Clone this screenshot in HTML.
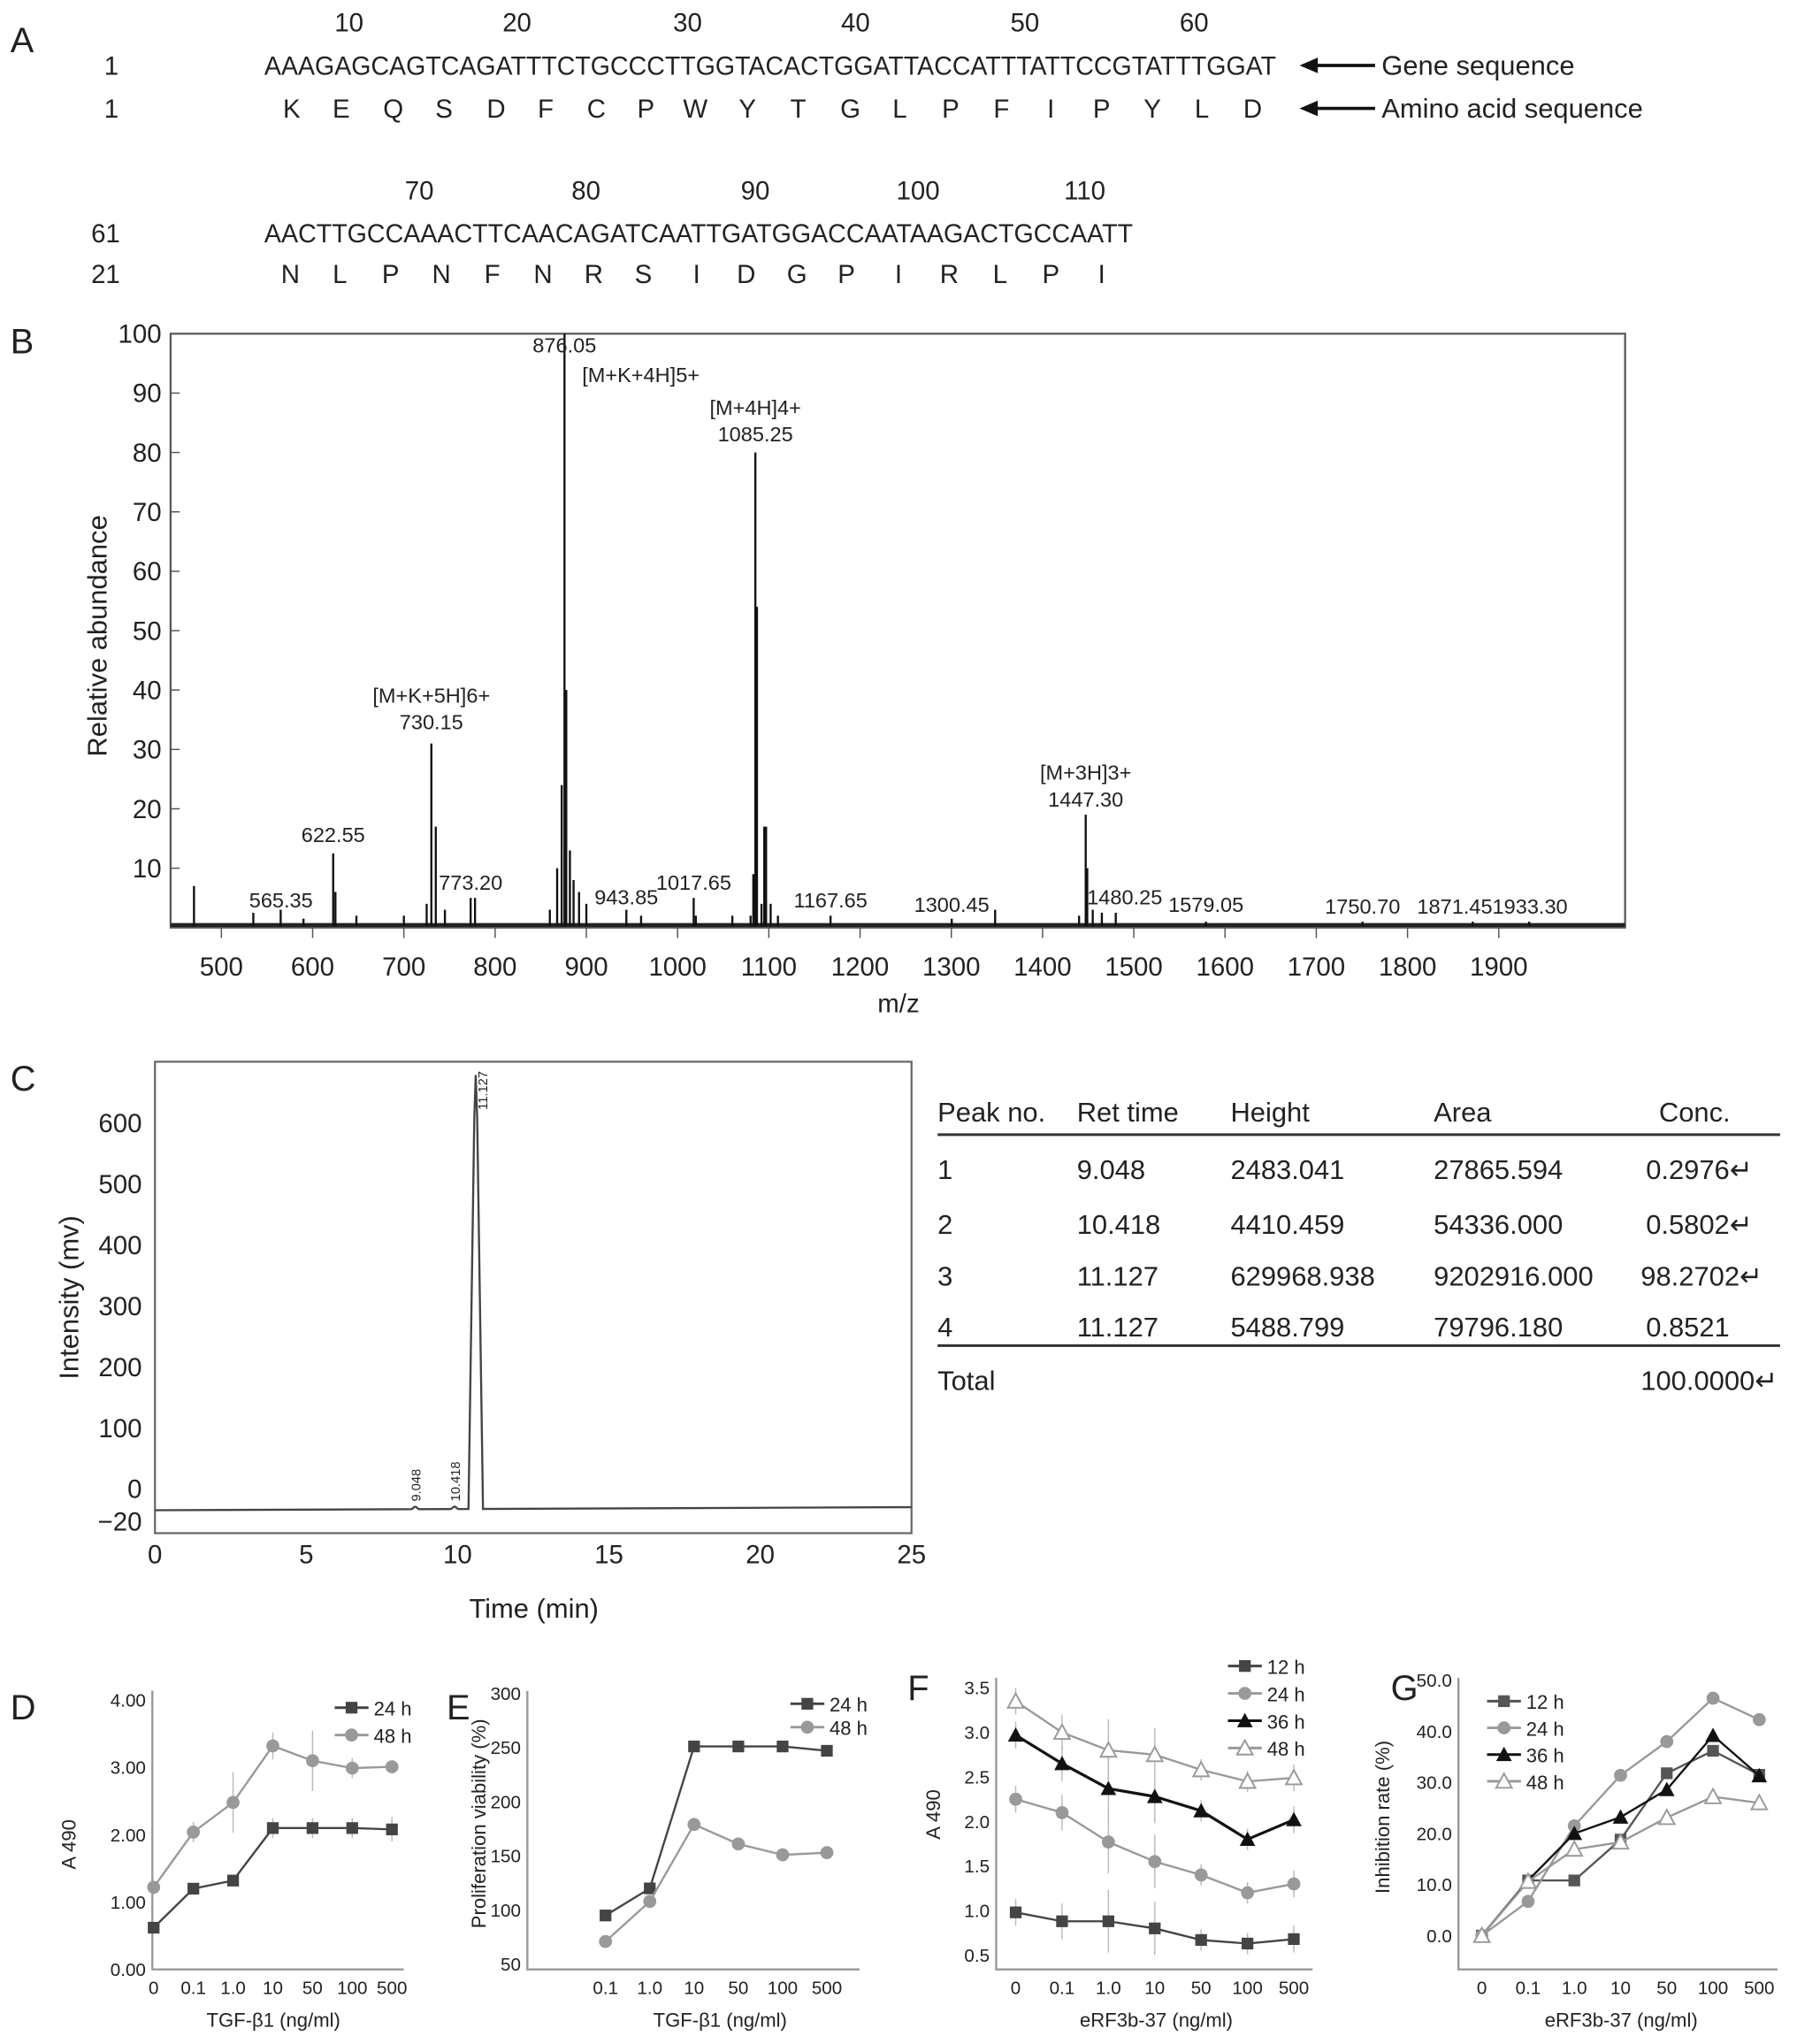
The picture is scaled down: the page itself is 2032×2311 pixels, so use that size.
<!DOCTYPE html>
<html><head><meta charset="utf-8"><style>
html,body{margin:0;padding:0;background:#fff}
svg{display:block}
text{font-family:"Liberation Sans",Arial,sans-serif;fill:#222}
</style></head><body>
<svg id="fig" xmlns="http://www.w3.org/2000/svg" width="2032" height="2311" viewBox="0 0 1380 1569">
<g font-size="20">
<text x="8" y="40" font-size="27">A</text>
<g text-anchor="middle">
<text x="268" y="24">10</text><text x="397" y="24">20</text><text x="528" y="24">30</text><text x="657" y="24">40</text><text x="787" y="24">50</text><text x="917" y="24">60</text>
</g>
<text x="80" y="57">1</text>
<text x="203" y="57" textLength="777" lengthAdjust="spacingAndGlyphs">AAAGAGCAGTCAGATTTCTGCCCTTGGTACACTGGATTACCATTTATTCCGTATTTGGAT</text>
<text x="80" y="90">1</text>
<g text-anchor="middle">
<text x="224" y="90">K</text><text x="262" y="90">E</text><text x="302" y="90">Q</text><text x="341" y="90">S</text><text x="381" y="90">D</text><text x="419" y="90">F</text><text x="458" y="90">C</text><text x="496" y="90">P</text><text x="534" y="90">W</text><text x="574" y="90">Y</text><text x="613" y="90">T</text><text x="653" y="90">G</text><text x="691" y="90">L</text><text x="730" y="90">P</text><text x="769" y="90">F</text><text x="807" y="90">I</text><text x="846" y="90">P</text><text x="885" y="90">Y</text><text x="923" y="90">L</text><text x="962" y="90">D</text>
</g>
<g><line x1="1008" y1="50" x2="1056" y2="50" stroke="#111" stroke-width="2.5"/><polygon points="998,50 1012,44 1012,56" fill="#111"/></g>
<text x="1061" y="57" font-size="21">Gene sequence</text>
<g><line x1="1008" y1="83" x2="1056" y2="83" stroke="#111" stroke-width="2.5"/><polygon points="998,83 1012,77 1012,89" fill="#111"/></g>
<text x="1061" y="90" font-size="21">Amino acid sequence</text>
<g text-anchor="middle">
<text x="322" y="153">70</text><text x="450" y="153">80</text><text x="580" y="153">90</text><text x="705" y="153">100</text><text x="833" y="153">110</text>
</g>
<text x="70" y="186">61</text>
<text x="203" y="186" textLength="667" lengthAdjust="spacingAndGlyphs">AACTTGCCAAACTTCAACAGATCAATTGATGGACCAATAAGACTGCCAATT</text>
<text x="70" y="217">21</text>
<g text-anchor="middle">
<text x="223" y="217">N</text><text x="261" y="217">L</text><text x="300" y="217">P</text><text x="339" y="217">N</text><text x="378" y="217">F</text><text x="417" y="217">N</text><text x="456" y="217">R</text><text x="494" y="217">S</text><text x="535" y="217">I</text><text x="573" y="217">D</text><text x="612" y="217">G</text><text x="650" y="217">P</text><text x="690" y="217">I</text><text x="729" y="217">R</text><text x="768" y="217">L</text><text x="807" y="217">P</text><text x="846" y="217">I</text>
</g>
</g>
<g id="pb"></g>
<g id="pc"></g>
<g font-size="21">
<text x="720" y="861">Peak no.</text><text x="827" y="861">Ret time</text><text x="945" y="861">Height</text><text x="1101" y="861">Area</text><text x="1274" y="861">Conc.</text>
<line x1="720" y1="871" x2="1367" y2="871" stroke="#333" stroke-width="2"/>
<text x="720" y="905">1</text><text x="827" y="905">9.048</text><text x="945" y="905">2483.041</text><text x="1101" y="905">27865.594</text><text x="1264" y="905">0.2976↵</text>
<text x="720" y="947">2</text><text x="827" y="947">10.418</text><text x="945" y="947">4410.459</text><text x="1101" y="947">54336.000</text><text x="1264" y="947">0.5802↵</text>
<text x="720" y="987">3</text><text x="827" y="987">11.127</text><text x="945" y="987">629968.938</text><text x="1101" y="987">9202916.000</text><text x="1260" y="987">98.2702↵</text>
<text x="720" y="1026">4</text><text x="827" y="1026">11.127</text><text x="945" y="1026">5488.799</text><text x="1101" y="1026">79796.180</text><text x="1264" y="1026">0.8521</text>
<line x1="720" y1="1033" x2="1367" y2="1033" stroke="#333" stroke-width="2"/>
<text x="720" y="1067">Total</text><text x="1260" y="1067">100.0000↵</text>
</g>
<g id="pd"></g>
<g id="pe"></g>
<g id="pf"></g>
<g id="pg"></g>
</svg>
<script>
// ---- Panel B data ----
const msMz = [470,535,565,590,622.55,625,648,700,725,730.15,735,745,773.2,778,860,868,873,876.05,878,882,886,892,900,943.85,960,1017.65,1020,1060,1080,1083,1085.25,1087,1092,1095,1097,1102,1110,1167.65,1300.45,1348,1440,1447.3,1449,1455,1465,1480.25,1579.05,1750.7,1871.45,1933.3];
const msAb = [7,2.5,3,1.5,12.5,6,2,2,4,31,17,3,5,5,3,10,24,100,40,13,8,6,4,3,2,5,2,2,2,9,80,54,4,17,17,4,2,2,1.5,3,2,19,10,3,2.5,2.5,1,1,1,1];
const msTicks = [500,600,700,800,900,1000,1100,1200,1300,1400,1500,1600,1700,1800,1900];
const msYTicks = [10,20,30,40,50,60,70,80,90,100];
const msLabels = [["876.05",876.05,96],["[M+K+4H]5+",900,91],["[M+4H]4+",1085.25,85.5],["1085.25",1085.25,81],["[M+K+5H]6+",730.15,37],["730.15",730.15,32.5],["622.55",622.55,13.5],["565.35",565.35,2.5],["773.20",773.2,5.5],["943.85",943.85,3],["1017.65",1017.65,5.5],["1167.65",1167.65,2.5],["1300.45",1300.45,1.8],["[M+3H]3+",1447.3,24],["1447.30",1447.3,19.5],["1480.25",1490,3],["1579.05",1579.05,1.8],["1750.70",1750.7,1.5],["1871.451933.30",1893,1.5]];
// ---- Panel C data ----
const lcPeakT = [8.6,9.9,10.6];
const lcPeakH = [4,4,712];
const lcPeakLbl = ["9.048","10.418","11.127"];
const lcXTicks = [0,5,10,15,20,25];
const lcYTicks = [600,500,400,300,200,100,0];
// ---- Panel D ----
const dCats = ["0","0.1","1.0","10","50","100","500"];
const d24 = [0.62,1.2,1.32,2.1,2.1,2.1,2.08];
const d48 = [1.22,2.04,2.48,3.32,3.1,2.99,3.01];
const d24err = [0.08,0.08,0.08,0.15,0.15,0.15,0.18];
const d48err = [0.05,0.15,0.45,0.2,0.45,0.15,0.1];
const dYTicks = [0,1,2,3,4];
// ---- Panel E ----
const eCats = ["0.1","1.0","10","50","100","500"];
const e24 = [95,120,251,251,251,247];
const e48 = [71,108,179,161,151,153];
const eYTicks = [50,100,150,200,250,300];
// ---- Panel F ----
const fCats = ["0","0.1","1.0","10","50","100","500"];
const f12 = [0.98,0.88,0.88,0.8,0.67,0.63,0.68];
const f24 = [2.25,2.1,1.77,1.55,1.4,1.2,1.3];
const f36 = [2.97,2.65,2.37,2.28,2.12,1.8,2.02];
const f48 = [3.35,3.0,2.8,2.75,2.58,2.45,2.49];
const fErr = [0.15,0.2,0.35,0.3,0.12,0.12,0.15];
const fYTicks = [0.5,1.0,1.5,2.0,2.5,3.0,3.5];
// ---- Panel G ----
const gCats = ["0","0.1","1.0","10","50","100","500"];
const g12 = [0,10.8,10.8,18.8,31.8,36.2,31.5];
const g24 = [0,6.7,21.5,31.4,38,46.5,42.3];
const g36 = [0,10.8,20,23.2,28.6,39.2,31.3];
const g48 = [0,10.6,16.9,18.3,23.1,27.2,26];
const gYTicks = [0,10,20,30,40,50];

const NS="http://www.w3.org/2000/svg";
function mk(parent,tag,attrs,txt){const e=document.createElementNS(NS,tag);for(const k in attrs)e.setAttribute(k,attrs[k]);if(txt!==undefined)e.textContent=txt;parent.appendChild(e);return e;}

// ===== Panel B =====
(function(){
const g=document.getElementById('pb');
const X=m=>170+(m-500)*0.7007, Y=v=>712-v*4.56;
const lb=mk(g,'text',{x:8,y:271,'font-size':27},'B');


const box=mk(g,'rect',{x:131,y:256,width:1117,height:456,fill:'none',stroke:'#555','stroke-width':1.5});


mk(g,'line',{x1:131,y1:710,x2:1248,y2:710,stroke:'#222','stroke-width':3});
msYTicks.forEach(v=>{const t=mk(g,'text',{x:124,y:Y(v)+7,'font-size':20,'text-anchor':'end'},String(v));


mk(g,'line',{x1:131,y1:Y(v),x2:138,y2:Y(v),stroke:'#555'});});
msTicks.forEach(v=>{const t=mk(g,'text',{x:X(v),y:749,'font-size':20,'text-anchor':'middle'},String(v));


mk(g,'line',{x1:X(v),y1:712,x2:X(v),y2:720,stroke:'#555'});});
const xt=mk(g,'text',{x:690,y:777,'font-size':20,'text-anchor':'middle'},'m/z');


const yt=mk(g,'text',{x:0,y:0,'font-size':21,'text-anchor':'middle',transform:'translate(82,488) rotate(-90)'},'Relative abundance');


msMz.forEach((m,i)=>{const l=mk(g,'line',{x1:X(m),y1:711,x2:X(m),y2:Y(msAb[i]),stroke:'#111','stroke-width':1.6});

});
msLabels.forEach(a=>{const isK=a[0].startsWith('[M+K+4H]');const t=mk(g,'text',{x:isK?447:X(a[1]),y:Y(a[2])-4,'font-size':16,'text-anchor':isK?'start':'middle'},a[0]);

});
})();

// ===== Panel C =====
(function(){
const g=document.getElementById('pc');
const X=t=>119+t*23.24, Y=v=>1143-v*0.468;
const lb=mk(g,'text',{x:8,y:837,'font-size':27},'C');


const box=mk(g,'rect',{x:119,y:815,width:581,height:362,fill:'none',stroke:'#666','stroke-width':1.5});


lcYTicks.forEach(v=>{const t=mk(g,'text',{x:109,y:Y(v)+7,'font-size':20,'text-anchor':'end'},String(v));

});
const m20=mk(g,'text',{x:109,y:1175,'font-size':20,'text-anchor':'end'},'−20');


lcXTicks.forEach(v=>{const t=mk(g,'text',{x:X(v),y:1200,'font-size':20,'text-anchor':'middle'},String(v));

});
const xt=mk(g,'text',{x:410,y:1242,'font-size':21,'text-anchor':'middle'},'Time (min)');


const yt=mk(g,'text',{x:0,y:0,'font-size':21,'text-anchor':'middle',transform:'translate(60,996) rotate(-90)'},'Intensity (mv)');


const base=v=>-35+ v*0.2;
let d=`M${X(0)},${Y(base(0))}`;
lcPeakT.forEach((t,i)=>{const w=i===2?0.12:0.06;d+=` L${X(t-w*2)},${Y(base(t))} L${X(t-w*0.4)},${Y(base(t)+lcPeakH[i]*0.9)} L${X(t)},${Y(base(t)+lcPeakH[i])} L${X(t+w*0.4)},${Y(base(t)+lcPeakH[i]*0.9)} L${X(t+w*2)},${Y(base(t))}`;});
d+=` L${X(25)},${Y(base(25))}`;
const tr=mk(g,'path',{d:d,fill:'none',stroke:'#444','stroke-width':1.6});


lcPeakT.forEach((t,i)=>{const yy=i===2?852:Y(base(t)+lcPeakH[i])-4;const lab=mk(g,'text',{x:0,y:0,'font-size':10,transform:`translate(${X(t)+(i===2?9:4)},${yy}) rotate(-90)`},lcPeakLbl[i]);

});
})();

// ===== Line charts =====
function marker(g,type,x,y,col){let e;
if(type==='sq')e=mk(g,'rect',{x:x-4.5,y:y-4.5,width:9,height:9,fill:col});
else if(type==='ci')e=mk(g,'circle',{cx:x,cy:y,r:5,fill:col});
else if(type==='tri')e=mk(g,'polygon',{points:`${x},${y-6} ${x-6},${y+5} ${x+6},${y+5}`,fill:col});
else e=mk(g,'polygon',{points:`${x},${y-6} ${x-6},${y+5} ${x+6},${y+5}`,fill:'#fff',stroke:col,'stroke-width':1.3});

}
function chart(o){
const g=document.getElementById(o.id);
const X=i=>o.xs[0]+i*o.dx, Y=v=>o.y0-(v-o.vmin)*o.ppu;
const lb=mk(g,'text',{x:o.lx,y:o.ly,'font-size':27},o.letter);


const ax=mk(g,'path',{d:`M${o.ax},${o.top} V${o.axy} H${o.axr}`,fill:'none',stroke:'#999','stroke-width':1.6});


o.yt.forEach(v=>{const t=mk(g,'text',{x:o.ax-5,y:Y(v)+5,'font-size':14,'text-anchor':'end'},o.fmt(v));

});
o.cats.forEach((c,i)=>{const t=mk(g,'text',{x:X(i),y:1531,'font-size':14,'text-anchor':'middle'},c);

});
const xt=mk(g,'text',{x:o.xtx,y:1556,'font-size':15,'text-anchor':'middle'},o.xtitle);


const yt=mk(g,'text',{x:0,y:0,'font-size':15,'text-anchor':'middle',transform:`translate(${o.ytx},${o.yty}) rotate(-90)`},o.ytitle);


o.series.forEach((s,k)=>{
if(s.err)s.vals.forEach((v,i)=>{mk(g,'line',{x1:X(i),y1:Y(v-s.err[i]),x2:X(i),y2:Y(v+s.err[i]),stroke:'#bbb','stroke-width':1});});
const p=mk(g,'polyline',{points:s.vals.map((v,i)=>X(i)+','+Y(v)).join(' '),fill:'none',stroke:s.col,'stroke-width':s.w||1.6});


s.vals.forEach((v,i)=>marker(g,s.mk,X(i),Y(v),s.col));
const ly=o.legY+k*o.legDy;
mk(g,'line',{x1:o.legX,y1:ly,x2:o.legX+26,y2:ly,stroke:s.col,'stroke-width':2});
marker(g,s.mk,o.legX+13,ly,s.col);
const lt=mk(g,'text',{x:o.legX+30,y:ly+6,'font-size':15},s.name);


});}
chart({id:'pd',letter:'D',lx:8,ly:1320,xs:[118],dx:30.5,y0:1512,vmin:0,ppu:51.7,ax:117,top:1298,axy:1512,axr:310,yt:dYTicks,fmt:v=>v.toFixed(2),cats:dCats,xtx:210,xtitle:'TGF-β1 (ng/ml)',ytx:58,yty:1416,ytitle:'A 490',legX:257,legY:1311,legDy:21,
series:[{name:'24 h',vals:d24,err:d24err,col:'#444',mk:'sq'},{name:'48 h',vals:d48,err:d48err,col:'#999',mk:'ci'}]});
chart({id:'pe',letter:'E',lx:343,ly:1320,xs:[465],dx:34,y0:1508,vmin:50,ppu:0.832,ax:405,top:1298,axy:1512,axr:660,yt:eYTicks,fmt:v=>String(v),cats:eCats,xtx:553,xtitle:'TGF-β1 (ng/ml)',ytx:373,yty:1400,ytitle:'Proliferation viability (%)',legX:607,legY:1308,legDy:18,
series:[{name:'24 h',vals:e24,col:'#444',mk:'sq'},{name:'48 h',vals:e48,col:'#999',mk:'ci'}]});
chart({id:'pf',letter:'F',lx:697,ly:1305,xs:[780],dx:35.6,y0:1501,vmin:0.5,ppu:68.4,ax:765,top:1288,axy:1512,axr:1008,yt:fYTicks,fmt:v=>v.toFixed(1),cats:fCats,xtx:888,xtitle:'eRF3b-37 (ng/ml)',ytx:722,yty:1393,ytitle:'A 490',legX:943,legY:1279,legDy:21,
series:[{name:'12 h',vals:f12,err:fErr,col:'#444',mk:'sq'},{name:'24 h',vals:f24,err:fErr,col:'#999',mk:'ci'},{name:'36 h',vals:f36,err:fErr,col:'#111',mk:'tri',w:2.2},{name:'48 h',vals:f48,err:fErr,col:'#999',mk:'otri'}]});
chart({id:'pg',letter:'G',lx:1068,ly:1305,xs:[1138],dx:35.5,y0:1486,vmin:0,ppu:3.92,ax:1120,top:1288,axy:1512,axr:1365,yt:gYTicks,fmt:v=>v.toFixed(1),cats:gCats,xtx:1245,xtitle:'eRF3b-37 (ng/ml)',ytx:1067,yty:1395,ytitle:'Inhibition rate (%)',legX:1142,legY:1306,legDy:20.5,
series:[{name:'12 h',vals:g12,col:'#555',mk:'sq'},{name:'24 h',vals:g24,col:'#999',mk:'ci'},{name:'36 h',vals:g36,col:'#111',mk:'tri'},{name:'48 h',vals:g48,col:'#999',mk:'otri'}]});
</script>
</body></html>
